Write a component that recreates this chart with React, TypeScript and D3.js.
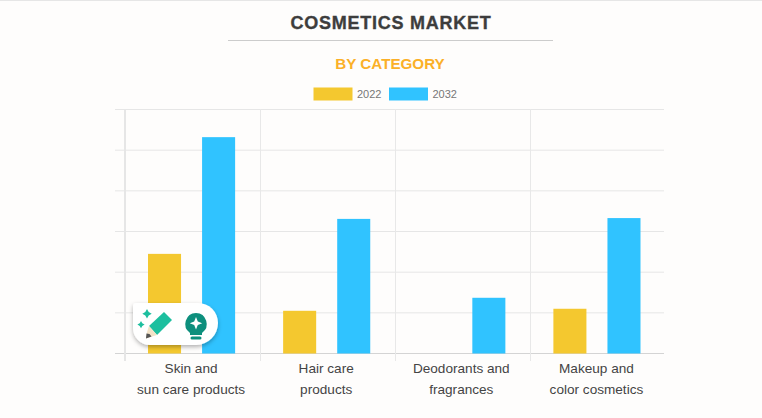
import React from "react";
import * as d3 from "d3";

const categories = [["Skin and", "sun care products"], ["Hair care", "products"], ["Deodorants and", "fragrances"], ["Makeup and", "color cosmetics"]];
const categoryKeys = ["skin", "hair", "deo", "makeup"];
const values2022 = [2.45, 1.05, 0, 1.1];
const values2032 = [5.32, 3.31, 1.37, 3.33];
const yTicks = [0, 1, 2, 3, 4, 5, 6];
const legendItems = ["2022", "2032"];
const YELLOW = "#f4c82f";
const BLUE = "#30c3ff";
const FONT = "'Liberation Sans', Arial, sans-serif";

export default function App() {
  const x = d3.scaleBand<string>().domain(categoryKeys).range([124.5, 665]);
  const inner = d3.scaleBand<string>().domain(legendItems).range([-0.5, x.bandwidth() - 0.5]).paddingInner(0.389).paddingOuter(0.444);
  const y = d3.scaleLinear().domain([0, 6]).range([353.5, 109.5]);
  const bars = [values2022, values2032];
  return (
    <svg width={762} height={418} style={{ position: "fixed", left: 0, top: 0, background: "#fefdfc" }} fontFamily={FONT}>
      <line x1={0} x2={762} y1={0.5} y2={0.5} stroke="#e6e6e6" />
      <text x={391} y={29} textAnchor="middle" fontSize={18} fontWeight="bold" fill="#3d3d3d" stroke="#3d3d3d" strokeWidth={0.35} letterSpacing={0.75}>COSMETICS MARKET</text>
      <line x1={228} x2={553} y1={40.5} y2={40.5} stroke="#cccccc" />
      <text x={390} y={69} textAnchor="middle" fontSize={15.2} fontWeight="bold" fill="#fbb028">BY CATEGORY</text>
      {legendItems.map((l, i) => (
        <g key={l} transform={`translate(${313.5 + i * 75.5},87.5)`}>
          <rect width={39} height={13} fill={i ? BLUE : YELLOW} />
          <text x={43.5} y={10.5} fontSize={11} fill="#777">{l}</text>
        </g>
      ))}
      {yTicks.map(t => (
        <line key={t} x1={115} x2={664} y1={y(t)} y2={y(t)} stroke={t === 0 ? "#d4d4d4" : "#e6e6e6"} />
      ))}
      {categoryKeys.map((k, i) => (
        <line key={k} x1={Math.round(x(k)!) + (i ? 0.5 : 0)} x2={Math.round(x(k)!) + (i ? 0.5 : 0)} y1={109} y2={361} stroke={i === 0 ? "#e6e6e6" : "#e8e8e8"} strokeWidth={i === 0 ? 2 : 1} />
      ))}
      {categoryKeys.map((k, ci) =>
        legendItems.map((s, si) => {
          const v = bars[si][ci];
          return <rect key={s} x={x(k)! + inner(s)!} y={y(v)} width={inner.bandwidth()} height={y(0) - y(v)} fill={si ? BLUE : YELLOW} />;
        })
      )}
      {categoryKeys.map((k, i) => (
        <text key={k} textAnchor="middle" fontSize={13.6} fill="#444">
          <tspan x={x(k)! + x.bandwidth() / 2 - 1} y={373}>{categories[i][0]}</tspan>
          <tspan x={x(k)! + x.bandwidth() / 2 - 1} y={394}>{categories[i][1]}</tspan>
        </text>
      ))}
      <defs>
        <filter id="sh" x="-20%" y="-20%" width="140%" height="150%">
          <feDropShadow dx={0} dy={2} stdDeviation={2.2} floodColor="#000" floodOpacity={0.3} />
        </filter>
      </defs>
      <path d="M136 303 H198 A20 20 0 0 1 218 323 A22 22 0 0 1 196 345 H150 A17 17 0 0 1 133 328 V306 A3 3 0 0 1 136 303 Z" fill="#fff" filter="url(#sh)" />
      <path d="M164 312 L172 320 L157 335 L149 326 Z" fill="#1dbf9f" />
      <path d="M149 326 L157 335 L152 336.500 L146 338.500 L147 332 Z" fill="#f3e3c8" />
      <path d="M149.500 334 L151.500 336.500 L146 338.500 L146.500 333.500 Z" fill="#555" />
      <path d="M147 309 l1.700 3 3 1.700 -3 1.700 -1.700 3 -1.700 -3 -3 -1.700 3 -1.700 Z" fill="#1dbf9f" />
      <path d="M141 321 l1.300 2.300 2.300 1.300 -2.300 1.300 -1.300 2.300 -1.300 -2.300 -2.300 -1.300 2.300 -1.300 Z" fill="#1dbf9f" />
      <path d="M196 313 a11 11 0 0 1 6 20 v2 h-12 v-2 a11 11 0 0 1 6 -20 Z" fill="#0d8f7d" />
      <rect x={190.500} y={336.500} width={11} height={3} rx={1.500} fill="#0d8f7d" />
      <path d="M196 317 l1.800 4.400 4.400 1.800 -4.400 1.800 -1.800 4.400 -1.800 -4.400 -4.400 -1.800 4.400 -1.800 Z" fill="#fff" />
    </svg>
  );
}
